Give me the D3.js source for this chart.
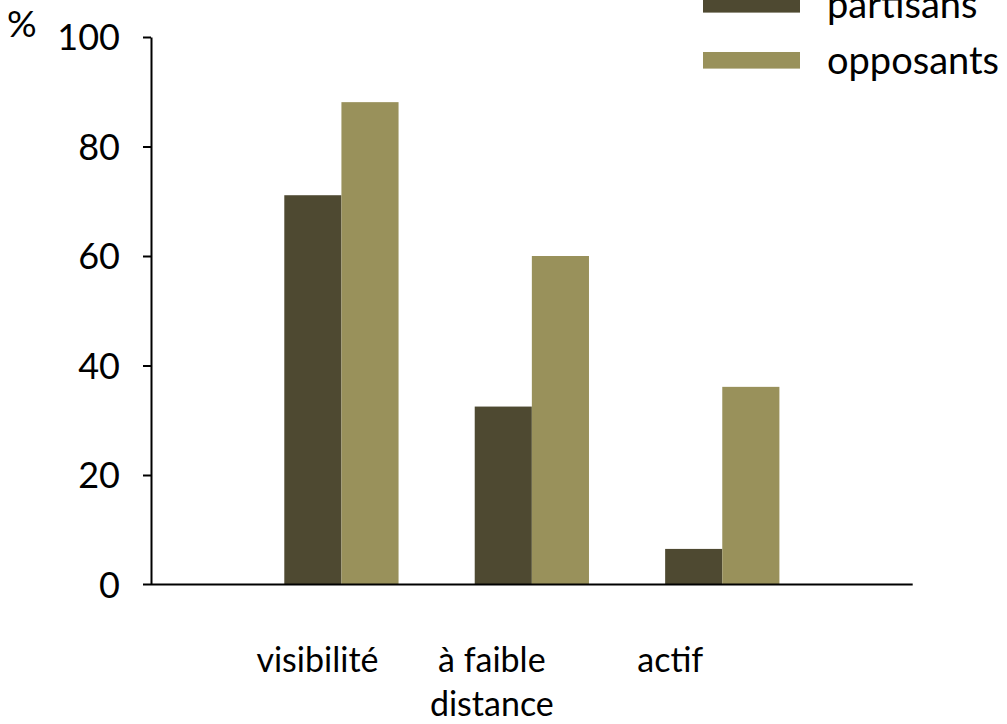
<!DOCTYPE html>
<html>
<head>
<meta charset="utf-8">
<script src="https://cdn.jsdelivr.net/npm/d3@7"></script>
<style>
  html, body { margin: 0; padding: 0; background: #fff; }
  svg { display: block; }
  text { font-family: Lato, "Open Sans", sans-serif; fill: #000; }
</style>
</head>
<body>
<svg id="chart" width="1007" height="724"></svg>
<script>
// Share of respondents (%) by situation, for supporters and opponents
const categories = ["visibilité", "à faible distance", "actif"];
const categoryLines = [["visibilité"], ["à faible", "distance"], ["actif"]];
const seriesNames = ["partisans", "opposants"];
const partisans = [71.1, 32.5, 6.5];
const opposants = [88.1, 60.0, 36.1];
const yTicks = [0, 20, 40, 60, 80, 100];

const colors = { partisans: "#4e4931", opposants: "#99915b" };

const svg = d3.select("#chart");

const plot = { left: 151, right: 912.7, top: 37, bottom: 584.5 };
const step = (plot.right - plot.left) / 4;

// Groups sit on the inner band boundaries of a four-slot category axis
const x = d3.scaleBand()
  .domain(categories)
  .range([plot.left + step / 2, plot.right - step / 2])
  .paddingInner(0.4)
  .paddingOuter(0.2);

const xs = d3.scaleBand()
  .domain(seriesNames)
  .range([0, x.bandwidth()]);

const y = d3.scaleLinear().domain([0, 100]).range([plot.bottom, plot.top]);

const rows = categories.map((c, i) => ({ cat: c, partisans: partisans[i], opposants: opposants[i] }));

// Bars
const groups = svg.append("g").selectAll("g")
  .data(rows)
  .join("g")
  .attr("transform", d => `translate(${x(d.cat)},0)`);

groups.selectAll("rect")
  .data(d => seriesNames.map(s => ({ s, v: d[s] })))
  .join("rect")
  .attr("x", d => xs(d.s))
  .attr("width", xs.bandwidth())
  .attr("y", d => y(d.v))
  .attr("height", d => y(0) - y(d.v))
  .attr("fill", d => colors[d.s]);

// Y axis
const yAxis = svg.append("g")
  .attr("transform", `translate(${plot.left},0)`)
  .call(d3.axisLeft(y).tickValues(yTicks).tickSize(8).tickPadding(23).tickSizeOuter(0));
yAxis.select(".domain").attr("stroke", "#000").attr("stroke-width", 2);
yAxis.selectAll(".tick line").attr("stroke", "#000").attr("stroke-width", 2);
yAxis.selectAll(".tick").filter(d => d === 0).select("line").remove();
yAxis.selectAll(".tick text")
  .style("font-family", "Lato, sans-serif")
  .style("font-size", "36px")
  .attr("dy", "0.36em");

// X axis line
svg.append("line")
  .attr("x1", plot.left - 8).attr("x2", plot.right)
  .attr("y1", y(0)).attr("y2", y(0))
  .attr("stroke", "#000").attr("stroke-width", 2);

// Category labels
const labelShift = [-24, -40, -52];
svg.append("g").selectAll("text")
  .data(categories)
  .join("text")
  .attr("text-anchor", "middle")
  .attr("x", (d, i) => x(d) + x.bandwidth() / 2 + labelShift[i])
  .attr("y", 672)
  .style("font-size", "34px")
  .selectAll("tspan")
  .data((d, i) => categoryLines[i])
  .join("tspan")
  .attr("x", function () { return d3.select(this.parentNode).attr("x"); })
  .attr("dy", (d, j) => j === 0 ? 0 : 44)
  .text(d => d);

// Unit label
svg.append("text")
  .attr("x", 7).attr("y", 37)
  .style("font-size", "37px")
  .text("%");

// Legend
const legend = svg.append("g").selectAll("g")
  .data(seriesNames)
  .join("g")
  .attr("transform", (d, i) => `translate(703,${-4 + i * 56})`);
legend.append("rect")
  .attr("width", 97).attr("height", 16.6)
  .attr("fill", d => colors[d]);
legend.append("text")
  .attr("x", 124).attr("y", 22)
  .style("font-size", "38px")
  .text(d => d);
</script>
</body>
</html>
